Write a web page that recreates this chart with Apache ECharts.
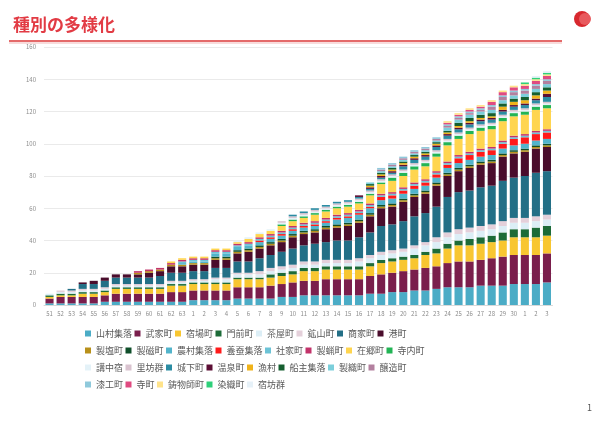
<!DOCTYPE html>
<html><head><meta charset="utf-8">
<script src="https://cdn.jsdelivr.net/npm/echarts@6/dist/echarts.min.js"></script>
<style>html,body{margin:0;padding:0;background:#fff}#c{width:597px;height:427px}</style>
</head><body><div id="c"></div>
<script>
const categories = ['51','52','53','54','55','56','57','58','59','60','61','62','63',
  '1','2','3','4','5','6','7','8','9','10','11','12','13','14','15','16','17','18','19','20',
  '21','22','23','24','25','26','27','28','29','30','1','2','3'];

const sanson   = [1,1,1,1,1,2,2,2,2,2, 2,2,2,3,3,3,3,4,4,4, 4,5,5,6,6,6,6,6,6,7, 7,8,8,9,9,10,11,11,11,12, 12,12,13,13,13,14];
const buke     = [3,4,4,4,4,4,5,5,5,5, 5,6,6,6,6,6,6,7,7,7, 8,8,9,9,9,10,10,10,10,11, 12,12,13,13,14,14,15,16,16,16, 17,18,18,18,18,18];
const shukuba  = [1,1,1,2,2,2,3,3,3,3, 3,4,4,4,4,4,4,5,5,5, 5,5,5,6,6,6,6,6,6,6, 7,7,7,7,8,8,9,10,10,10, 10,10,11,11,11,11];
const monzen   = [1,1,1,1,1,1,1,1,1,1, 1,1,1,1,1,1,1,1,1,1, 2,2,2,2,2,2,2,2,2,2, 2,2,2,2,2,3,3,3,4,4, 4,5,5,5,6,6];
const chaya    = [1,1,1,1,1,1,1,1,1,1, 1,1,1,1,1,2,2,2,2,2, 2,2,2,2,2,2,2,2,3,3, 3,3,3,4,4,4,4,4,4,4, 4,4,4,4,4,4];
const kozan    = [0,1,1,1,1,1,1,1,1,1, 1,1,1,1,1,1,1,1,1,2, 2,2,2,2,2,2,2,2,2,2, 2,2,2,2,2,3,3,3,3,3, 3,3,3,3,3,3];
const shoka    = [0,0,1,3,3,4,4,4,4,4, 5,5,5,5,5,6,6,7,7,8, 8,9,10,10,11,11,12,12,13,14, 16,16,17,18,18,19,22,23,23,24, 24,25,25,26,27,27];
const minato   = [0,0,0,1,2,2,2,2,2,3, 3,4,4,4,4,5,5,5,6,6, 6,6,7,7,7,8,8,9,9,10, 11,11,12,12,12,13,13,13,14,14, 14,15,15,15,15,15];
const seien    = [0,0,0,0,0,0,0,0,1,1, 1,1,1,1,1,1,1,1,1,1, 1,1,1,1,1,1,1,1,1,1, 1,1,1,1,1,1,1,1,1,1, 1,1,1,1,1,1];
const seiji    = [0,0,0,0,0,0,0,0,0,0, 0,0,0,0,0,1,1,1,1,1, 1,1,1,1,1,1,1,1,1,1, 1,1,1,1,1,1,1,1,1,1, 1,1,1,1,1,1];
const noson    = [0,0,0,0,0,0,0,0,0,0, 0,0,1,1,1,2,2,2,2,2, 2,2,2,2,2,2,3,3,3,3, 3,3,3,3,3,3,3,3,3,3, 3,3,3,3,3,3];
const yosan    = [0,0,0,0,0,0,0,0,0,0, 0,0,0,0,0,0,0,0,0,1, 1,1,1,1,1,1,1,1,1,1, 2,2,2,2,2,2,2,3,3,3, 3,3,4,4,4,4];
const shake    = [0,0,0,0,0,0,0,0,0,0, 0,0,1,1,1,1,1,1,1,1, 1,1,1,1,1,1,1,1,1,1, 1,1,1,1,1,1,1,1,1,1, 1,1,1,1,1,1];
const seiro    = [0,0,0,0,0,0,0,0,1,1, 1,1,1,1,1,1,1,1,1,1, 1,1,1,1,1,1,1,1,1,1, 1,1,1,1,1,1,1,1,1,1, 1,1,1,1,1,1];
const zaigo    = [0,0,0,0,0,0,0,0,0,0, 0,1,1,1,1,1,1,1,2,2, 2,3,3,3,4,4,4,4,4,5, 6,7,7,8,8,9,10,10,11,11, 11,12,12,12,13,13];
const jinai    = [0,0,0,0,0,0,0,0,0,0, 0,0,0,0,0,0,0,0,0,0, 0,1,1,1,1,1,1,1,1,1, 1,2,2,2,2,2,2,2,2,2, 2,2,2,2,2,2];
const kochu    = [0,0,0,0,0,0,0,0,0,0, 0,0,0,0,0,0,0,1,1,1, 1,1,1,1,1,1,1,1,1,1, 1,1,1,1,1,1,1,1,1,1, 1,1,1,1,1,1];
const satobo   = [0,0,0,0,0,0,0,0,0,0, 0,0,0,0,0,0,0,0,0,0, 0,1,1,1,1,1,1,1,1,1, 1,1,1,1,1,1,1,1,1,1, 1,1,1,1,1,1];
const joka     = [0,0,0,0,0,0,0,0,0,0, 0,0,0,0,0,0,0,0,0,0, 0,0,1,1,1,1,1,1,1,1, 1,1,2,2,2,2,2,2,2,2, 2,2,2,2,2,3];
const onsen    = [0,0,0,0,0,0,0,0,0,0, 0,0,0,0,0,0,0,0,0,0, 0,0,0,0,0,0,0,0,1,1, 1,1,1,1,1,1,1,1,1,1, 1,1,1,1,1,2];
const gyoson   = [0,0,0,0,0,0,0,0,0,0, 0,0,0,0,0,0,0,0,0,0, 0,0,0,0,0,0,0,0,0,1, 1,1,1,1,1,1,1,1,1,1, 1,2,2,2,2,2];
const senshu   = [0,0,0,0,0,0,0,0,0,0, 0,0,0,0,0,0,0,0,0,0, 0,0,0,0,0,0,0,0,0,1, 1,1,1,1,1,1,1,2,2,2, 2,2,2,2,2,2];
const seishoku = [0,0,0,0,0,0,0,0,0,0, 0,0,0,0,0,0,0,0,0,0, 0,0,0,0,0,0,0,0,0,1, 1,1,1,1,1,1,2,2,2,2, 2,2,2,2,2,2];
const jozo     = [0,0,0,0,0,0,0,0,0,0, 0,0,0,0,0,0,0,0,0,0, 0,0,0,0,0,0,0,0,0,0, 1,1,1,1,1,1,1,1,1,1, 2,2,2,2,2,2];
const shikko   = [0,0,0,0,0,0,0,0,0,0, 0,0,0,0,0,0,0,0,0,0, 0,0,0,0,0,0,0,0,0,0, 1,1,1,1,1,1,1,1,1,1, 1,1,1,1,1,1];
const teramachi= [0,0,0,0,0,0,0,0,0,0, 0,0,0,0,0,0,0,0,0,0, 0,0,0,0,0,0,0,0,0,0, 0,0,0,0,0,0,1,1,1,1, 2,2,2,2,2,2];
const imoji    = [0,0,0,0,0,0,0,0,0,0, 0,0,0,0,0,0,0,0,0,0, 0,0,0,0,0,0,0,0,0,0, 0,0,0,0,0,0,1,1,1,1, 1,1,1,1,1,1];
const senshoku = [0,0,0,0,0,0,0,0,0,0, 0,0,0,0,0,0,0,0,0,0, 0,0,0,0,0,0,0,0,0,0, 0,0,0,0,0,0,0,0,0,0, 0,0,0,1,1,1];
const shukubo  = [0,0,0,0,0,0,0,0,0,0, 0,0,0,0,0,0,0,0,0,0, 0,0,0,0,0,0,0,0,0,0, 0,0,0,0,0,0,0,0,0,0, 0,0,0,0,1,1];

const seriesNames = ['山村集落','武家町','宿場町','門前町','茶屋町','鉱山町','商家町','港町',
  '製塩町','製磁町','農村集落','養蚕集落','社家町','製蝋町','在郷町','寺内町',
  '講中宿','里坊群','城下町','温泉町','漁村','船主集落','製織町','醸造町',
  '漆工町','寺町','鋳物師町','染織町','宿坊群'];
const seriesValues = [sanson,buke,shukuba,monzen,chaya,kozan,shoka,minato,
  seien,seiji,noson,yosan,shake,seiro,zaigo,jinai,
  kochu,satobo,joka,onsen,gyoson,senshu,seishoku,jozo,
  shikko,teramachi,imoji,senshoku,shukubo];
const colors = ['#4BACC6','#7A1E4C','#F8C630','#1D6B38','#DCEEF6','#E4D0DA','#236F86','#4A0D2C',
  '#B8901A','#0F4F2A','#52B4CB','#FF1A1A','#6CC3D6','#C2336A','#FFD54F','#22B455',
  '#E4F2F8','#D9C3CF','#2B8CA3','#5C0F35','#F0B31A','#165F30','#7CCFDB','#B3809F',
  '#8FC9DB','#E04A80','#FFE38A','#2FD07A','#E6F1F8'];

const FONT = '"Noto Sans CJK JP", "Noto Sans", sans-serif';
const chart = echarts.init(document.getElementById('c'), null, {renderer:'canvas'});

const legendRows = [seriesNames.slice(0,8), seriesNames.slice(8,16), seriesNames.slice(16,24), seriesNames.slice(24)];
const legends = legendRows.map((row, r) => ({
  data: row,
  left: 80,
  top: 324 + r * 17,
  orient: 'horizontal',
  icon: 'rect',
  itemWidth: 6,
  itemHeight: 6,
  itemGap: 2.5,
  textStyle: {fontSize: 9, color: '#595959', fontFamily: FONT, width: 40, overflow: 'truncate'},
  selectedMode: false
}));

chart.setOption({
  animation: false,
  color: colors,
  title: {text: '種別の多様化', left: 8, top: 11,
    textStyle: {fontSize: 17, fontWeight: 'bold', color: '#E23B44', fontFamily: FONT}},
  graphic: [
    {type: 'line', shape: {x1: 9, y1: 41, x2: 562, y2: 41}, style: {stroke: '#E46A6A', lineWidth: 2}},
    {type: 'line', shape: {x1: 9, y1: 43, x2: 562, y2: 43}, style: {stroke: '#F6D0D0', lineWidth: 1.5}},
    {type: 'circle', shape: {cx: 582, cy: 19, r: 8}, style: {fill: '#D8282E'}},
    {type: 'circle', shape: {cx: 585, cy: 19, r: 6}, style: {fill: '#E85A5E'}},
    {type: 'text', left: 587, top: 403, style: {text: '1', fontSize: 9, fill: '#555', fontFamily: FONT}}
  ],
  legend: legends,
  grid: {left: 44, right: 44.5, top: 47, bottom: 122, containLabel: false},
  xAxis: {
    type: 'category', data: categories,
    axisLine: {lineStyle: {color: '#D9D9D9'}},
    axisTick: {show: false},
    axisLabel: {interval: 0, fontSize: 6, color: '#8C8C8C', margin: 6, fontFamily: FONT}
  },
  yAxis: {
    type: 'value', min: 0, max: 160, interval: 20,
    axisLine: {show: false}, axisTick: {show: false},
    axisLabel: {fontSize: 6, color: '#8C8C8C', margin: 8, fontFamily: FONT},
    splitLine: {lineStyle: {color: '#EAEAEA'}}
  },
  series: seriesNames.map((n, i) => ({
    name: n, type: 'bar', stack: 'total', data: seriesValues[i],
    barCategoryGap: '27%',
    itemStyle: {color: colors[i]}
  }))
});
</script>
</body></html>
